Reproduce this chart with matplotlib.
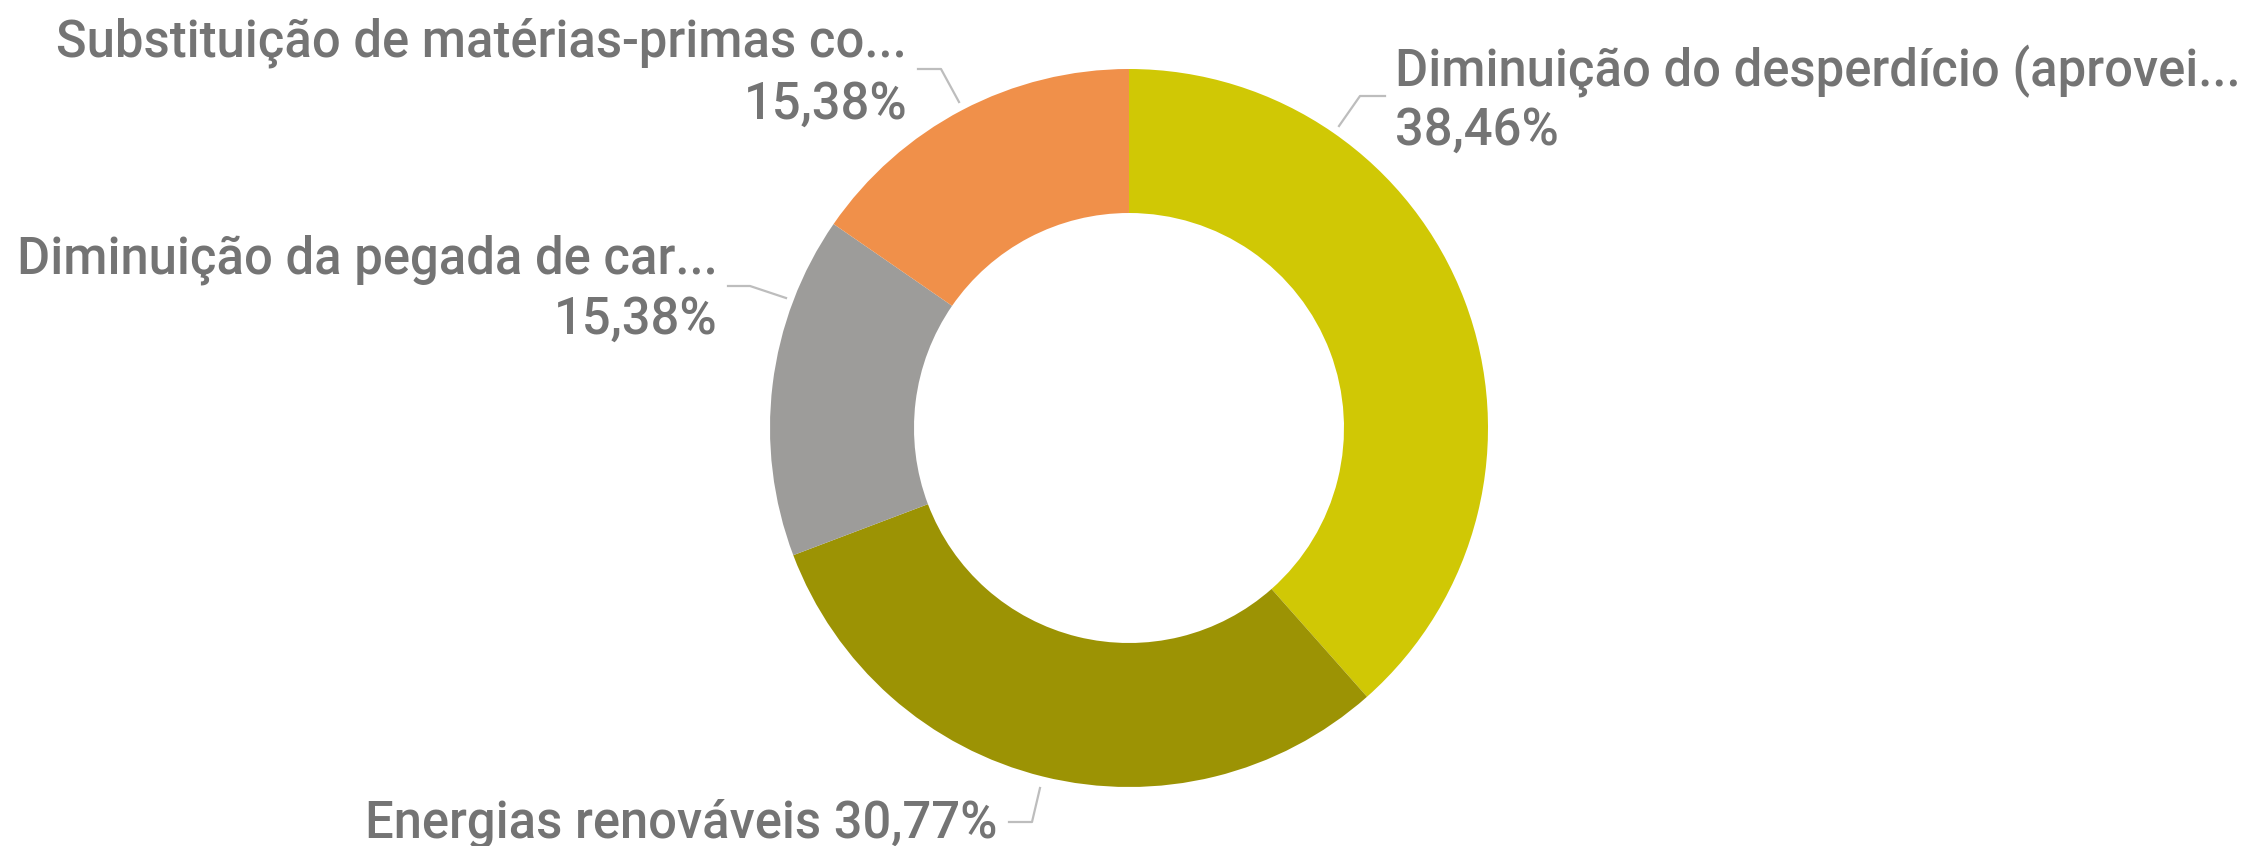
import matplotlib
matplotlib.use("Agg")
import matplotlib.pyplot as plt

labels = ["Diminuição do desperdício (aprovei...", "Energias renováveis",
          "Diminuição da pegada de car...", "Substituição de matérias-primas co..."]
values = [38.46, 30.77, 15.38, 15.38]
colors = ["#D0C805", "#9C9304", "#9D9C9A", "#F0904A"]

W, H = 2250, 846
fam = ["Roboto", "DejaVu Sans"]
weight = "medium"
txt_col = "#747474"
line_col = "#BDBDBD"

fig = plt.figure(figsize=(W / 100, H / 100), dpi=100)
ax = fig.add_axes([0, 0, 1, 1])
ax.pie(values, colors=colors, startangle=90, counterclock=False,
       radius=359, center=(1129, H - 428),
       wedgeprops=dict(width=144, linewidth=0))
ax.set_xlim(0, W)
ax.set_ylim(0, H)
ax.set_aspect("equal")
ax.axis("off")

# font size chosen so the long labels are about as wide as in the original
renderer = fig.canvas.get_renderer()
fs = 100
for s, target in [(labels[0], 844), (labels[2], 700), (labels[3], 871)]:
    t = fig.text(0, 0, s, fontsize=40, family=fam, fontweight=weight)
    w = t.get_window_extent(renderer=renderer).width
    t.remove()
    fs = min(fs, 40 * target / w)


def px(x, y):
    return x / W, 1 - y / H


def pct(v):
    return f"{v:.2f}".replace(".", ",") + "%"


def label(x, y, s, ha):
    fig.text(*px(x, y), s, ha=ha, va="baseline", fontsize=fs, color=txt_col,
             family=fam, fontweight=weight)


def leader(pts):
    xs = [p[0] / W for p in pts]
    ys = [1 - p[1] / H for p in pts]
    fig.add_artist(plt.Line2D(xs, ys, color=line_col, lw=1.6, transform=fig.transFigure))


# desperdício
label(1395, 86, labels[0], "left")
label(1395, 145, pct(values[0]), "left")
leader([(1339, 126), (1360, 96), (1385, 96)])

# energias
label(997, 838, labels[1] + " " + pct(values[1]), "right")
leader([(1009, 822), (1032, 822), (1040, 788)])

# pegada
label(718, 273, labels[2], "right")
label(718, 334, pct(values[2]), "right")
leader([(728, 286), (750, 286), (786, 298)])

# substituição
label(907, 57, labels[3], "right")
label(907, 119, pct(values[3]), "right")
leader([(918, 69), (941, 69), (959, 102)])

fig.savefig("out.png", dpi=100, facecolor="white")
